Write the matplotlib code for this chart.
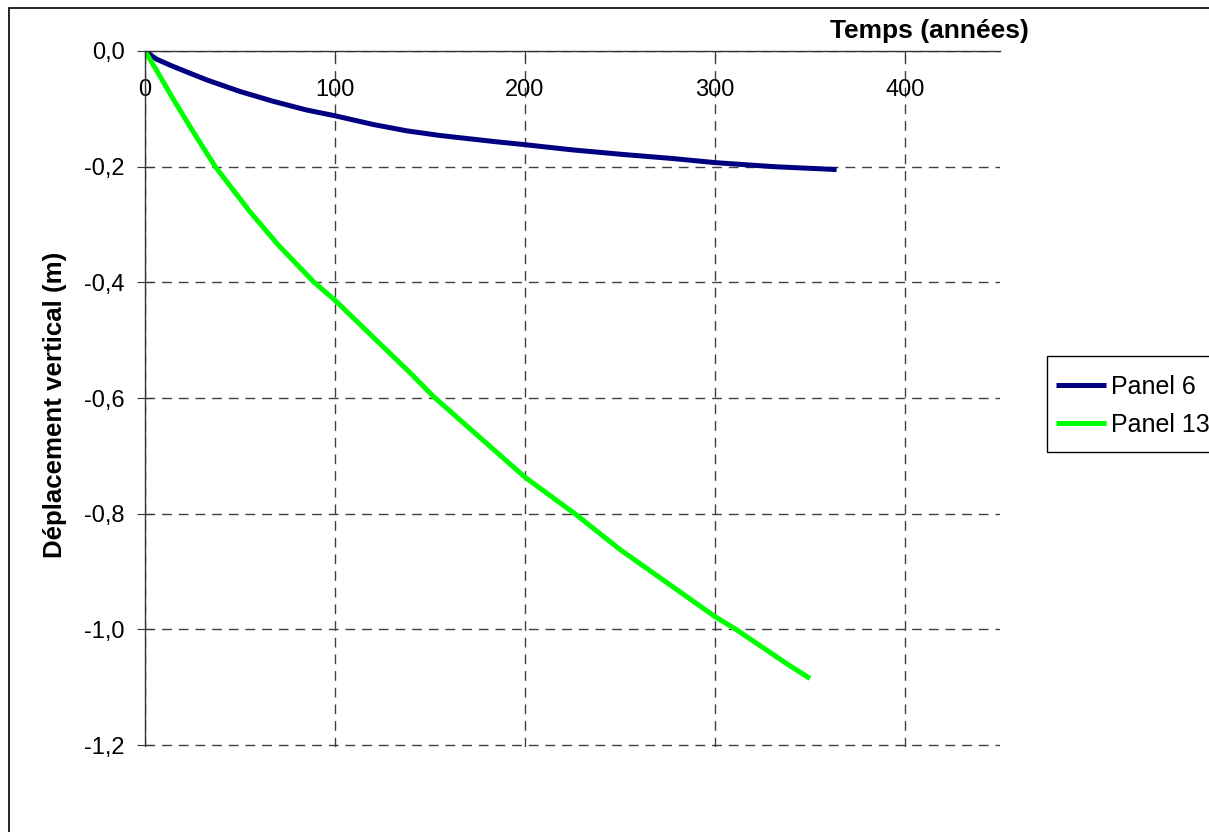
import matplotlib
matplotlib.use("Agg")
import matplotlib.pyplot as plt
from matplotlib.patches import Rectangle
from matplotlib.ticker import FixedLocator, FuncFormatter

plt.rcParams["font.family"] = ["Liberation Sans", "DejaVu Sans"]

# Tassement vertical au cours du temps
t_panel6 = [0, 6, 15, 32.5, 50, 67.5, 85, 100, 120, 137.7, 155, 185, 200, 225, 252, 278, 300, 331, 364]
d_panel6 = [0, -0.014, -0.027, -0.050, -0.070, -0.087, -0.102, -0.112, -0.127, -0.138, -0.146,
            -0.157, -0.162, -0.171, -0.179, -0.186, -0.193, -0.200, -0.205]

t_panel13 = [0, 6, 15, 26, 37, 55, 70, 89, 100, 140, 152, 200, 227, 250, 300, 311, 338, 350]
d_panel13 = [0, -0.033, -0.084, -0.143, -0.200, -0.277, -0.335, -0.400, -0.431, -0.558, -0.598,
             -0.737, -0.802, -0.862, -0.978, -1.000, -1.060, -1.085]

x_ticks = [0, 100, 200, 300, 400]
y_ticks = [0.0, -0.2, -0.4, -0.6, -0.8, -1.0, -1.2]

W, H = 1209, 832
fig = plt.figure(figsize=(W / 100, H / 100), dpi=100)
# un petit surplus sous -1,2 pour que la derniere ligne de grille ne soit pas coupee
ax = fig.add_axes([145 / W, 1 - 747 / H, 855 / W, 696 / H])

ax.plot(t_panel6, d_panel6, color="#000080", lw=3.6, label="Panel 6", solid_capstyle="butt")
ax.plot(t_panel13, d_panel13, color="#00ff00", lw=3.6, label="Panel 13", solid_capstyle="butt")

ax.set_xlim(0, 450)
ax.set_ylim(-1.2 - 0.2 * 2 / 116, 0)
ax.xaxis.set_major_locator(FixedLocator(x_ticks))
ax.yaxis.set_major_locator(FixedLocator(y_ticks))
ax.yaxis.set_major_formatter(FuncFormatter(
    lambda v, p: ("%.1f" % v).replace(".", ",").replace("-0,0", "0,0")))

for side in ["right", "bottom"]:
    ax.spines[side].set_visible(False)
for side in ["top", "left"]:
    ax.spines[side].set_color("#333333")
    ax.spines[side].set_linewidth(1.0)
ax.spines["left"].set_bounds(-1.2, 0)

# axe des temps en haut, libelles sous la ligne
ax.tick_params(axis="x", top=True, labeltop=True, bottom=False, labelbottom=False,
               direction="in", length=6, pad=-36, labelsize=17, color="#333333")
ax.tick_params(axis="y", direction="inout", length=11, pad=9, labelsize=17, color="#333333")

ax.set_axisbelow(True)
ax.grid(True, color="#404040", lw=1.0, linestyle=(0, (7, 5)))

ax.xaxis.set_label_position("top")
ax.set_xlabel("Temps (années)", fontsize=19, fontweight="bold", va="center", ha="center")
ax.xaxis.set_label_coords((929 - 145) / 855, (747 - 31) / 696)
ax.set_ylabel("Déplacement vertical (m)", fontsize=18.6, fontweight="bold", va="center", ha="center")
ax.yaxis.set_label_coords((55 - 145) / 855, (747 - 405) / 696)

# legende sans cadre + cadre dessine a part (plus de marge en haut qu'a gauche)
leg = fig.legend(loc="upper left", bbox_to_anchor=(1046 / W, 1 - 365 / H), borderaxespad=0,
                 fontsize=18, frameon=False, handlelength=2.0, handletextpad=0.2,
                 labelspacing=0.55, borderpad=0.4)
fig.patches.append(Rectangle((1047 / W, 1 - 452 / H), 0.2, 96 / H, transform=fig.transFigure,
                             fill=True, facecolor="white", edgecolor="black", lw=1.0, zorder=0))

# cadre du graphique
fig.patches.append(Rectangle((9 / W, -0.1), 1.2, 1 - 8 / H + 0.1, transform=fig.transFigure,
                             fill=False, edgecolor="black", lw=1.2))

fig.savefig("out.png", dpi=100)
